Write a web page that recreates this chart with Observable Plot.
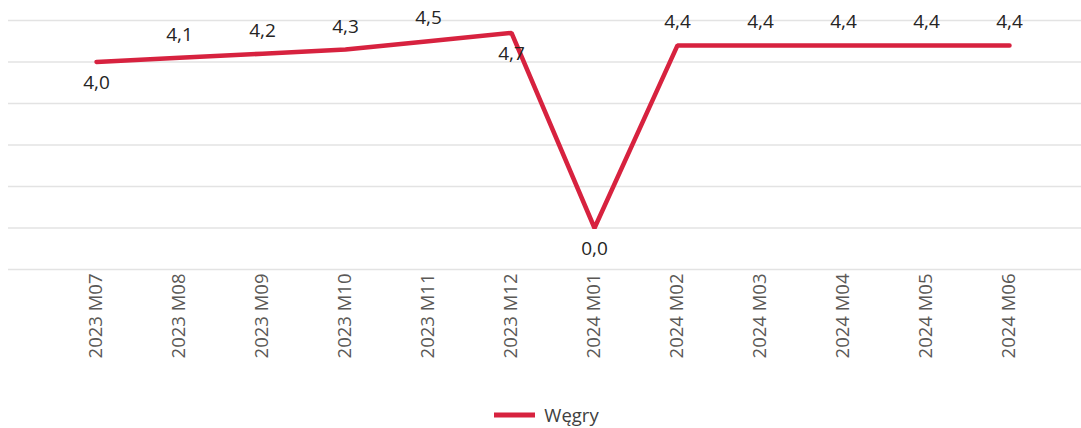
<!DOCTYPE html>
<html>
<head>
<meta charset="utf-8">
<script src="https://cdn.jsdelivr.net/npm/d3@7"></script>
<script src="https://cdn.jsdelivr.net/npm/@observablehq/plot@0.6"></script>
<style>
  html, body { margin: 0; padding: 0; background: #fff; }
  body { width: 1081px; height: 428px; overflow: hidden; font-family: "Open Sans", "Noto Sans", sans-serif; }
  #legend { display: flex; justify-content: center; align-items: center; height: 25px; margin-top: 6px; padding-left: 12px; }
  #legend span { font-size: 18.5px; line-height: 22px; color: #404040; margin-left: 9px; }
</style>
</head>
<body>
<div id="chart"></div>
<div id="legend"></div>
<script>
const months = ["2023 M07","2023 M08","2023 M09","2023 M10","2023 M11","2023 M12",
                "2024 M01","2024 M02","2024 M03","2024 M04","2024 M05","2024 M06"];
const values = [4.0, 4.1, 4.2, 4.3, 4.5, 4.7, 0.0, 4.4, 4.4, 4.4, 4.4, 4.4];
const gridValues = [-1, 0, 1, 2, 3, 4, 5];
const labelsBelow = ["2023 M07", "2023 M12", "2024 M01"];
const seriesName = "Węgry";
const lineColor = "#d7223f";

const data = months.map((m, i) => ({month: m, value: values[i]}));
const fmt = v => d3.format(".1f")(v).replace(".", ",");

const chart = Plot.plot({
  width: 1081,
  height: 396,
  marginTop: 20,
  marginBottom: 127,
  marginLeft: 8,
  marginRight: 0,
  style: {fontFamily: "'Open Sans', 'Noto Sans', sans-serif", background: "#fff"},
  x: {type: "point", domain: months, padding: 0, insetLeft: 84, insetRight: 68},
  y: {domain: [-1, 5], axis: null},
  marks: [
    Plot.ruleY(gridValues, {stroke: "#e3e3e3", strokeWidth: 1.6}),
    Plot.axisX({tickRotate: -90, tickSize: 0, tickPadding: 7, fontSize: 18.5, color: "#5a5856", label: null, dy: -3}),
    Plot.line(data, {x: "month", y: "value", stroke: lineColor, strokeWidth: 4.5, strokeLinejoin: "miter", strokeLinecap: "round"}),
    Plot.text(data.filter(d => !labelsBelow.includes(d.month)), {x: "month", y: "value", text: d => fmt(d.value), dy: -23, fontSize: 19, fill: "#252423"}),
    Plot.text(data.filter(d => labelsBelow.includes(d.month)), {x: "month", y: "value", text: d => fmt(d.value), dy: 21, fontSize: 19, fill: "#252423"})
  ]
});
document.getElementById("chart").appendChild(chart);

const legend = document.getElementById("legend");
legend.innerHTML = `<svg width="41" height="6"><line x1="0" x2="41" y1="3" y2="3" stroke="${lineColor}" stroke-width="5"/></svg><span></span>`;
legend.querySelector("span").textContent = seriesName;
</script>
</body>
</html>
